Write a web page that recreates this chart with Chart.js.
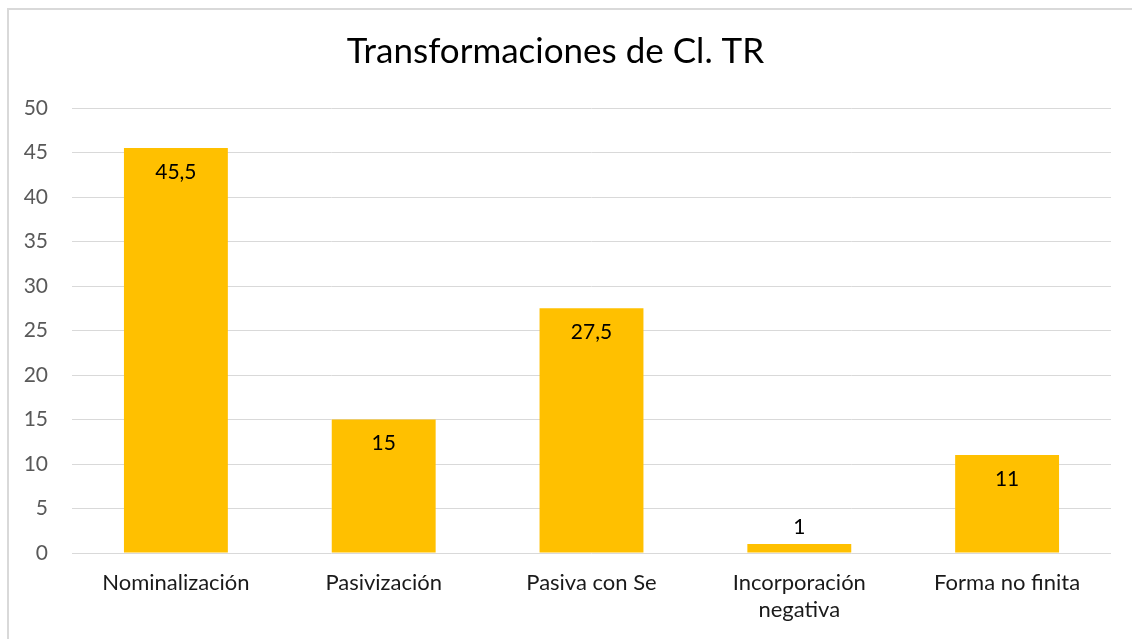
<!DOCTYPE html>
<html>
<head>
<meta charset="utf-8">
<script src="https://cdn.jsdelivr.net/npm/chart.js@4"></script>
<style>
  body { margin: 0; background: #fff; overflow: hidden; }
  #frame { position: absolute; left: 7px; top: 8px; width: 1140px; height: 650px; border: 2px solid #d9d9d9; box-sizing: border-box; }
  #wrap { position: absolute; left: 0; top: 0; width: 1132px; height: 639px; }
</style>
</head>
<body>
<div id="frame"></div>
<div id="wrap"><canvas id="myChart" width="1132" height="639"></canvas></div>
<script>
const categories = ['Nominalización', 'Pasivización', 'Pasiva con Se', ['Incorporación', 'negativa'], 'Forma no finita'];
const values = [45.5, 15, 27.5, 1, 11];
const yTicks = [0, 5, 10, 15, 20, 25, 30, 35, 40, 45, 50];

const fontFamily = 'Lato, "Open Sans", sans-serif';

// labels like Excel: inside the top of the bar, above it when the bar is too short
const barLabels = {
    id: 'barLabels',
    afterDatasetsDraw(chart) {
        const ctx = chart.ctx;
        const meta = chart.getDatasetMeta(0);
        ctx.save();
        ctx.font = '21px ' + fontFamily;
        ctx.fillStyle = '#000';
        ctx.textAlign = 'center';
        ctx.textBaseline = 'middle';
        meta.data.forEach((bar, i) => {
            const h = bar.base - bar.y;
            const y = h > 40 ? bar.y + 24 : bar.y - 17;
            ctx.fillText(String(values[i]).replace('.', ','), bar.x, y);
        });
        ctx.restore();
    }
};

new Chart(document.getElementById('myChart').getContext('2d'), {
    type: 'bar',
    data: {
        labels: categories,
        datasets: [{
            data: values,
            backgroundColor: '#FFC000',
            barPercentage: 0.5,
            categoryPercentage: 1
        }]
    },
    options: {
        responsive: false,
        animation: false,
        layout: { padding: { left: 0, right: 21, top: 0, bottom: 0 } },
        plugins: {
            legend: { display: false },
            tooltip: { enabled: false },
            title: {
                display: true,
                text: 'Transformaciones de Cl. TR',
                color: '#000',
                font: { family: fontFamily, size: 35, weight: 'normal', lineHeight: 1.2 },
                padding: { top: 31, bottom: 35 }
            }
        },
        scales: {
            x: {
                grid: { display: false, drawTicks: false },
                border: { display: false },
                ticks: {
                    color: '#1a1a1a',
                    padding: 17,
                    maxRotation: 0,
                    font: { family: fontFamily, size: 22, lineHeight: 1.2 }
                },
                afterFit(scale) { scale.height = 86; }
            },
            y: {
                min: 0,
                max: 50,
                afterBuildTicks(scale) { scale.ticks = yTicks.map(v => ({ value: v })); },
                grid: { color: '#d9d9d9', lineWidth: 1, drawTicks: false },
                border: { display: false },
                ticks: {
                    color: '#595959',
                    padding: 24,
                    font: { family: fontFamily, size: 21 }
                },
                afterFit(scale) { scale.width = 72; }
            }
        }
    },
    plugins: [barLabels]
});
</script>
</body>
</html>
